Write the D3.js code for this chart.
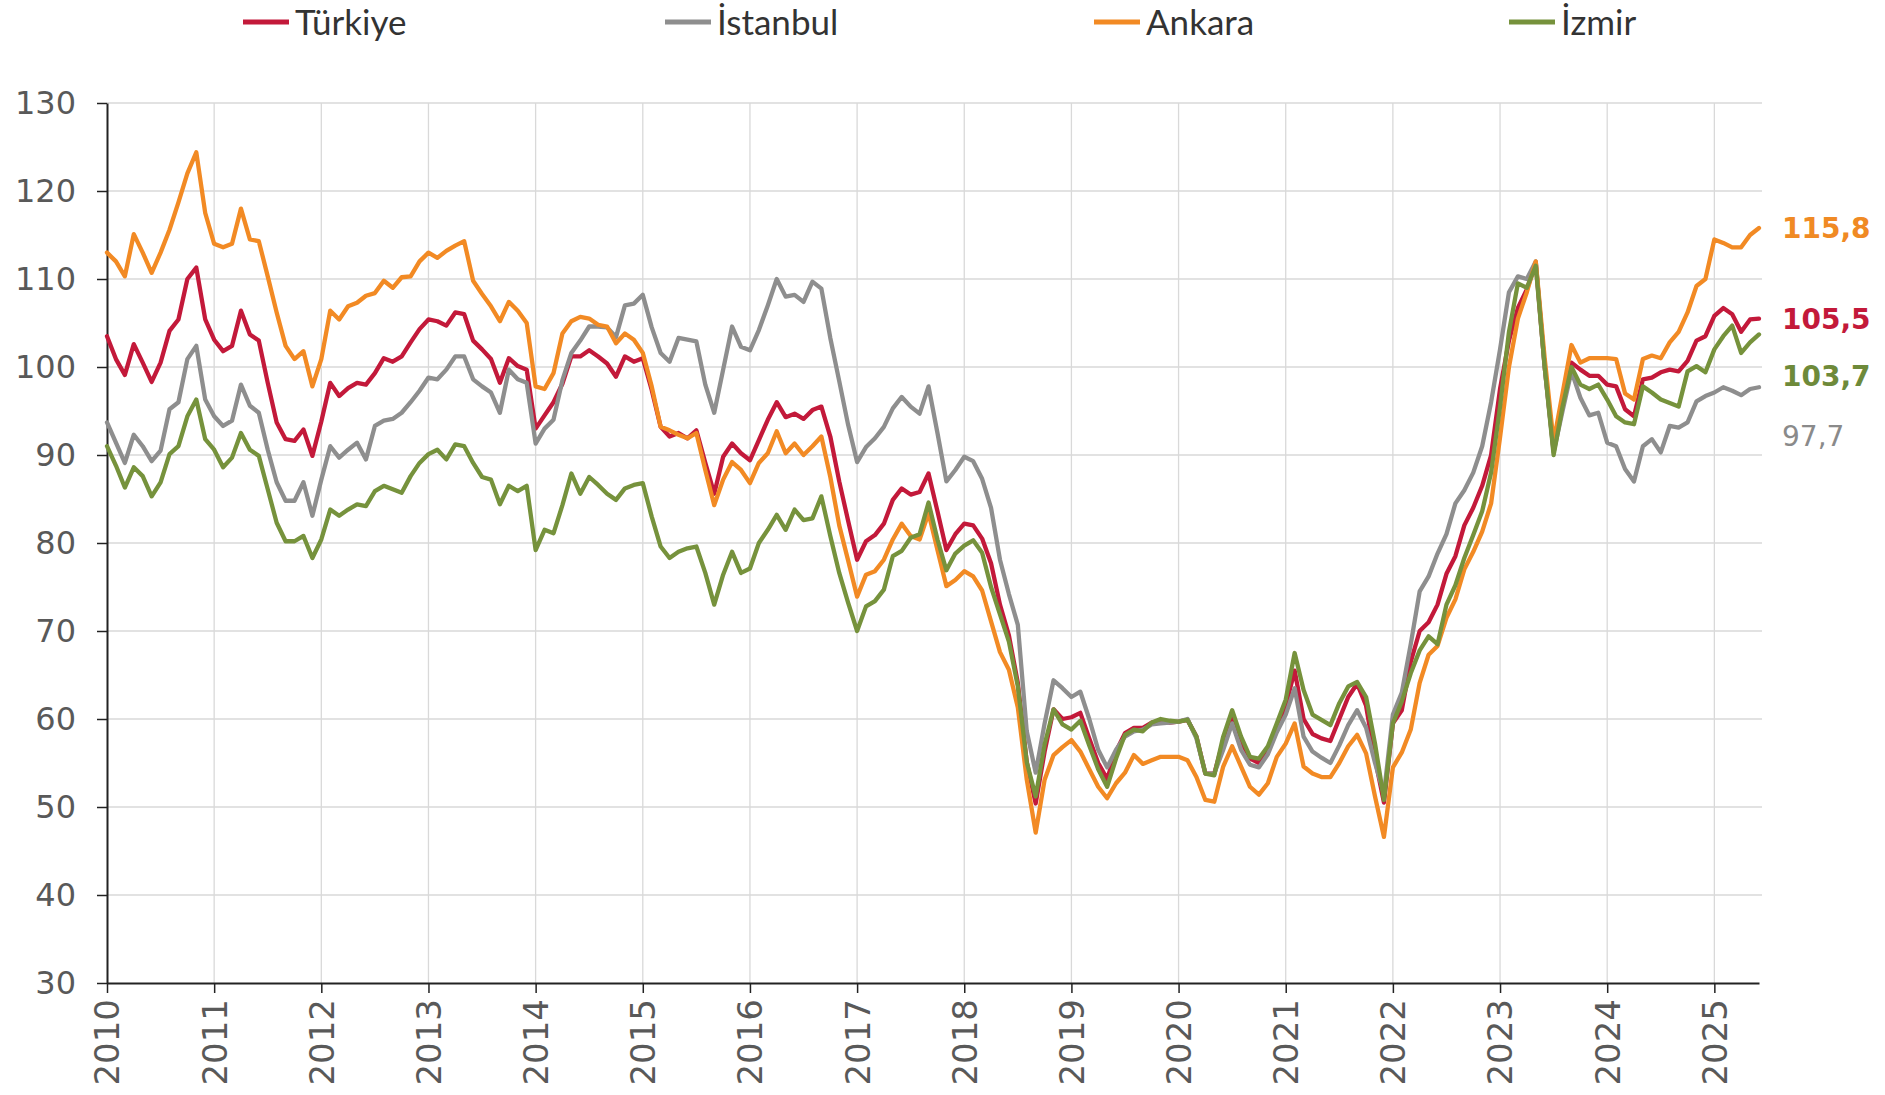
<!DOCTYPE html>
<html><head><meta charset="utf-8">
<script src="https://cdn.jsdelivr.net/npm/d3@7"></script>
<style>body{margin:0;background:#fff}svg{display:block}</style>
</head><body>
<svg id="c" width="1885" height="1095"></svg>
<script>
const startYear = 2010;
const yearLabels = ["2010","2011","2012","2013","2014","2015","2016","2017","2018","2019","2020","2021","2022","2023","2024","2025"];
const yTicks = [30,40,50,60,70,80,90,100,110,120,130];
const seriesNames = ["Türkiye","İstanbul","Ankara","İzmir"];
const endLabels = ["105,5","97,7","115,8","103,7"];

const turkiye = [
103.5,100.9,99.1,102.6,100.5,98.3,100.5,104.1,105.4,110,111.3,105.4,
103.1,101.8,102.4,106.4,103.7,103,98.2,93.7,91.8,91.6,92.9,89.9,
93.8,98.2,96.7,97.6,98.2,98,99.3,101,100.6,101.2,102.8,104.3,
105.4,105.2,104.7,106.2,106,103,102,100.9,98.2,101,100.1,99.7,
93,94.5,96,98.1,101.2,101.2,101.9,101.2,100.4,98.9,101.2,100.6,
101,97.4,93.2,92.1,92.5,91.9,92.8,89.1,85.6,89.8,91.3,90.2,
89.4,91.7,94,96,94.3,94.7,94.1,95.1,95.5,92.1,87,82.5,
78.1,80.2,80.9,82.2,84.9,86.2,85.5,85.8,87.9,83.6,79.2,81,
82.2,82,80.5,77.7,73,69.5,64.1,55.1,50.4,56.3,61.1,60,
60.2,60.7,57.8,55,53.2,56.3,58.4,59,59,59.6,59.8,59.6,
59.7,59.9,58,53.8,53.8,57.5,60.3,57.5,55.5,55,56.5,59,
61.5,65.5,60,58.3,57.8,57.5,60,62.5,64,61.5,55.5,50.5,
59.5,61,66.5,70,71,73,76.5,78.5,82,84,86.5,90,
97.5,103,106.7,108.8,111.8,100,90.5,95.5,100.5,99.7,99,99,
98,97.8,95.2,94.4,98.6,98.8,99.4,99.7,99.5,100.7,103,103.5,
105.8,106.7,106,104,105.4,105.5];

const istanbul = [
93.7,91.4,89.1,92.3,91,89.3,90.5,95.2,96,100.9,102.4,96.3,
94.4,93.3,93.9,98,95.6,94.8,90.6,86.9,84.8,84.8,86.9,83.1,
87.2,91,89.7,90.6,91.4,89.5,93.3,93.9,94.1,94.8,96,97.3,
98.8,98.6,99.7,101.2,101.2,98.6,97.8,97.1,94.8,99.7,98.6,98.2,
91.3,93,94,98.5,101.6,103,104.6,104.6,104.5,103.4,107,107.2,
108.2,104.5,101.6,100.6,103.3,103.1,102.9,98,94.8,99.7,104.6,102.3,
101.9,104.2,107,110,108,108.2,107.4,109.7,108.9,103.3,98.4,93.4,
89.2,90.9,91.9,93.2,95.3,96.6,95.5,94.7,97.8,92.5,87,88.3,
89.8,89.3,87.3,84,78.1,74.2,70.7,58.6,53.9,59.5,64.4,63.5,
62.5,63.1,60,56.5,54.5,56.5,58,58.6,58.8,59.4,59.5,59.6,
59.7,60,57.8,53.8,53.8,56.5,59.5,56.5,54.8,54.5,56,58.5,
60.5,63.5,58,56.3,55.6,55,57,59.3,61,59,55,51.5,
60.5,63,68.5,74.5,76.2,78.8,81,84.5,86,88,91,96,
102,108.5,110.3,110,112,100,90.3,95,99.5,96.5,94.5,94.8,
91.4,91,88.4,87,91,91.8,90.3,93.3,93.1,93.7,96.1,96.7,
97.1,97.7,97.3,96.8,97.5,97.7];

const ankara = [
113,112,110.3,115.1,113,110.7,113,115.6,118.7,122,124.4,117.5,
114,113.6,114,118,114.5,114.3,110.3,106.2,102.4,100.9,101.8,97.8,
100.9,106.4,105.4,106.9,107.3,108.1,108.4,109.8,109,110.2,110.3,112,
113,112.4,113.2,113.8,114.3,109.8,108.3,106.9,105.2,107.4,106.4,105,
97.8,97.5,99.3,103.8,105.2,105.7,105.5,104.8,104.6,102.7,103.8,103.1,
101.6,97.8,93.2,92.8,92.3,91.9,92.5,88.3,84.3,87.2,89.2,88.3,
86.8,89.1,90.2,92.7,90.2,91.3,90,91,92.1,87.5,82,78,
73.9,76.4,76.8,78.1,80.4,82.2,80.8,80.4,83.4,79.2,75.1,75.8,
76.8,76.2,74.6,71.1,67.6,65.6,61.3,53.1,47.1,53.1,55.9,56.8,
57.6,56.3,54.3,52.3,51,52.7,53.9,55.9,54.9,55.3,55.7,55.7,
55.7,55.3,53.4,50.8,50.6,54.6,56.9,54.6,52.3,51.4,52.7,55.7,
57.2,59.5,54.6,53.8,53.4,53.4,55,56.9,58.2,56.1,51.2,46.6,
54.5,56.2,58.8,64.1,67.3,68.3,71.5,73.6,77,79,81.3,84.5,
92,100,105.5,108.5,112,101,91.5,97,102.5,100.5,101,101,
101,100.9,97,96.3,100.9,101.3,101,102.8,104,106.2,109.2,110,
114.5,114.1,113.6,113.6,115,115.8];

const izmir = [
91,88.8,86.3,88.6,87.6,85.3,86.9,90.1,91,94.4,96.3,91.8,
90.6,88.6,89.7,92.5,90.6,89.9,86.1,82.3,80.2,80.2,80.8,78.3,
80.4,83.8,83.1,83.8,84.4,84.2,85.9,86.5,86.1,85.7,87.6,89.1,
90.1,90.6,89.5,91.2,91,89.1,87.5,87.2,84.4,86.5,85.9,86.5,
79.2,81.5,81.1,84.3,87.9,85.6,87.5,86.6,85.6,84.9,86.2,86.6,
86.8,83,79.6,78.3,79,79.4,79.6,76.6,73,76.4,79,76.6,
77.1,80,81.5,83.2,81.5,83.8,82.6,82.8,85.3,80.8,76.6,73.2,
70,72.8,73.4,74.7,78.5,79.1,80.6,81,84.6,80.4,76.9,78.8,
79.7,80.3,78.9,75,71.9,68.8,63.7,55.1,51.2,57.1,61.1,59.4,
58.8,59.8,57,54.3,52.3,55.5,58.2,58.8,58.6,59.6,60,59.8,
59.7,59.9,58,53.8,53.6,58,61,58,55.7,55.5,56.9,59.5,
62.2,67.5,63.3,60.5,59.9,59.3,61.8,63.7,64.2,62.5,57.2,50.8,
59.5,62,65.2,67.8,69.4,68.5,73,75.2,78.3,80.9,83.6,88,
95.5,104,109.5,109,111.5,100,90,95.5,100,98,97.5,98,
96.3,94.4,93.7,93.5,97.8,97.1,96.3,95.9,95.5,99.5,100.1,99.4,
102,103.5,104.7,101.6,102.8,103.7];

// ---- layout / style ----
const colors = ["#C3193A","#8E8E8E","#F28A24","#76923C"];
const labelColors = ["#C3193A","#8A8A8A","#F08A24","#6E8A3A"];
const labelWeights = ["bold","normal","bold","bold"];
const labelOffsets = [0, 49, 0, 41];
const series = [turkiye, istanbul, ankara, izmir];
const M = {left: 107, right: 1759, top: 103, bottom: 983};

const svg = d3.select("#c");
const n = turkiye.length;
const x = d3.scaleLinear().domain([0, n - 1]).range([M.left, M.right]);
const y = d3.scaleLinear().domain([30, 130]).range([M.bottom, M.top]);
const yearIdx = yearLabels.map((d, i) => i * 12);

// gridlines
const grid = svg.append("g");
grid.selectAll("line.h").data(yTicks.slice(1)).join("line")
  .attr("x1", M.left).attr("x2", M.right + 3)
  .attr("y1", d => y(d)).attr("y2", d => y(d))
  .attr("stroke", "#D9D9D9").attr("stroke-width", 1.3);
grid.selectAll("line.v").data(yearIdx.slice(1)).join("line")
  .attr("x1", d => x(d)).attr("x2", d => x(d))
  .attr("y1", M.top).attr("y2", M.bottom)
  .attr("stroke", "#D9D9D9").attr("stroke-width", 1.3);

// axes
const yAxis = svg.append("g").attr("transform", `translate(${M.left},0)`)
  .call(d3.axisLeft(y).tickValues(yTicks).tickSize(10).tickPadding(21).tickSizeOuter(0));
yAxis.select(".domain").attr("stroke", "#222").attr("stroke-width", 2);
yAxis.selectAll(".tick line").attr("stroke", "#222").attr("stroke-width", 1.5);
yAxis.selectAll("text").attr("fill", "#595959")
  .style("font-family", "'DejaVu Sans', Verdana, sans-serif").style("font-size", "32px");

const xAxis = svg.append("g").attr("transform", `translate(0,${M.bottom})`)
  .call(d3.axisBottom(x).tickValues(yearIdx).tickFormat((d, i) => yearLabels[i]).tickSize(10).tickSizeOuter(0));
xAxis.select(".domain").attr("stroke", "#222").attr("stroke-width", 2);
xAxis.selectAll(".tick line").attr("stroke", "#222").attr("stroke-width", 1.5);
xAxis.selectAll("text").attr("fill", "#595959")
  .style("font-family", "'DejaVu Sans', Verdana, sans-serif").style("font-size", "34px")
  .attr("text-anchor", "end").attr("dy", "0.35em")
  .attr("transform", "translate(0,6) rotate(-90)").attr("x", -10).attr("y", 0);

// lines
const line = d3.line().x((d, i) => x(i)).y(d => y(d)).curve(d3.curveLinear);
svg.append("g").selectAll("path").data(series).join("path")
  .attr("d", line).attr("fill", "none")
  .attr("stroke", (d, i) => colors[i]).attr("stroke-width", 4.3)
  .attr("stroke-linejoin", "round").attr("stroke-linecap", "round");

// end labels
svg.append("g").selectAll("text").data(series).join("text")
  .attr("x", 1782).attr("y", (d, i) => y(d[d.length - 1]) + labelOffsets[i])
  .attr("dy", "0.36em")
  .attr("fill", (d, i) => labelColors[i]).attr("font-weight", (d, i) => labelWeights[i])
  .style("font-family", "'DejaVu Sans', Verdana, sans-serif").style("font-size", "28px")
  .text((d, i) => endLabels[i]);

// legend
const legX = [243, 665, 1094, 1509];
const leg = svg.append("g").selectAll("g").data(seriesNames).join("g")
  .attr("transform", (d, i) => `translate(${legX[i]},22)`);
leg.append("line").attr("x1", 0).attr("x2", 46).attr("y1", 0).attr("y2", 0)
  .attr("stroke", (d, i) => colors[i]).attr("stroke-width", 5);
leg.append("text").attr("x", 52).attr("dy", "0.36em")
  .attr("fill", "#333").style("font-family", "Lato, 'Open Sans', sans-serif").style("font-size", "35px")
  .text(d => d);
</script>
</body></html>
